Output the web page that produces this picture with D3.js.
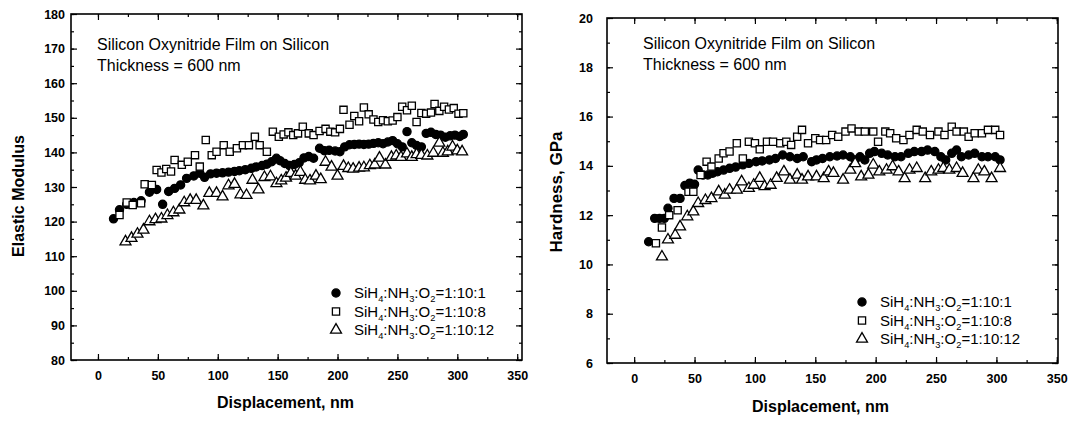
<!DOCTYPE html>
<html>
<head>
<meta charset="utf-8">
<script src="https://cdn.jsdelivr.net/npm/d3@7"></script>
<style>
  body { margin: 0; background: #fff; }
  svg { display: block; font-family: Arial, "Liberation Sans", sans-serif; }
</style>
</head>
<body>
<svg id="chart" width="1071" height="421"></svg>
<script>
// ---- data: [displacement nm, value] ----
const seriesLabels = ["SiH_4:NH_3:O_2=1:10:1", "SiH_4:NH_3:O_2=1:10:8", "SiH_4:NH_3:O_2=1:10:12"];

const modulus_1_10_1 = [[13,120.8],[18,123.4],[24,125],[30,125.5],[36,126],[43,128.5],[49,129.3],[54,125],[59,128.7],[64,129.6],[69,130.6],[74,132.5],[80,133.2],[85,134],[89,132.8],[94,133.8],[99,134],[104,134.1],[109,134.3],[114,134.5],[118,134.7],[123,135],[128,135.4],[132,135.8],[137,136.2],[141,136.6],[145,137.3],[149,138.3],[152,137.6],[156,136.8],[160,136.2],[164,136.5],[168,137],[172,138.4],[176,138.8],[180,138.3],[185,141.2],[189,140.5],[193,140.6],[198,140.4],[202,140.2],[206,141.6],[210,142.2],[214,142.3],[218,142.4],[222,142.3],[226,142.4],[230,142.6],[234,142.8],[238,142.5],[242,143],[246,143.4],[250,142.5],[254,141.6],[258,146],[262,142.8],[266,142],[270,141.6],[274,145.5],[278,145.8],[282,145.2],[286,145],[290,144.4],[294,144.8],[298,145],[302,144.6],[305,145.2]];
const modulus_1_10_8 = [[18,121.9],[24,125.5],[29,124.8],[36,125.3],[39,130.8],[45,130.6],[49,134.9],[53,134.2],[57,135.2],[61,134.5],[64,137.8],[70,136.4],[75,137.3],[81,139.2],[85,135.9],[90,143.6],[95,139.2],[99,140.2],[105,142.1],[110,140.2],[116,141.2],[121,142.1],[126,142.1],[131,144.5],[135,142.1],[141,140.2],[146,146],[151,144.5],[155,145.2],[159,145.8],[163,145],[167,145.5],[171,147.4],[176,145.5],[180,145],[185,146.2],[190,146.8],[194,146],[198,145.8],[202,146.8],[205,152.3],[210,148],[214,150.5],[218,149],[222,153],[226,151],[230,149.5],[234,148.8],[238,149.3],[242,149],[246,149.2],[250,150.2],[254,153.2],[258,152.2],[262,153.5],[266,148.8],[270,151.4],[274,151.2],[278,151.5],[281,154],[285,152],[289,153.2],[293,152.4],[297,152.8],[301,151.2],[305,151.3]];
const modulus_1_10_12 = [[23,114.2],[28,115.2],[33,116.4],[38,117.6],[43,120],[48,120.6],[53,120.8],[58,121.8],[63,122.6],[68,123.4],[72,125.5],[77,126.2],[82,126.2],[88,124.6],[93,128.2],[99,128.2],[104,127.2],[109,130.4],[114,130.8],[119,127.8],[124,127.6],[129,132],[134,129.2],[139,132.8],[144,133],[149,131],[153,131.8],[157,132.6],[161,134],[165,133.2],[169,134.3],[173,132],[177,131.8],[182,133.2],[186,132.2],[190,137.2],[195,135.8],[200,133.2],[205,136],[209,135.4],[213,135.2],[218,135.5],[222,135.6],[227,136.2],[231,136.4],[235,138.4],[240,136.4],[245,138.6],[249,139],[253,138.6],[258,139.6],[262,138.6],[266,139.4],[270,139.2],[275,139],[280,139.8],[285,142.7],[288,139.8],[292,140.2],[296,141.6],[300,140.5],[304,140.2]];

const hardness_1_10_1 = [[12,10.92],[17,11.87],[21,11.87],[25,11.87],[28,12.28],[33,12.68],[38,12.68],[42,13.2],[46,13.3],[50,13.25],[53,13.83],[57,13.63],[61,13.63],[65,13.7],[69,13.76],[74,13.83],[79,13.9],[84,13.95],[90,14.04],[95,14.1],[101,14.17],[106,14.2],[112,14.24],[117,14.3],[123,14.44],[129,14.37],[135,14.3],[140,14.37],[147,14.17],[151,14.24],[156,14.3],[162,14.37],[168,14.4],[173,14.44],[179,14.37],[183,14.24],[187,14.37],[191,14.24],[195,14.51],[199,14.58],[205,14.51],[210,14.44],[216,14.37],[221,14.37],[227,14.51],[232,14.58],[238,14.58],[243,14.64],[249,14.58],[254,14.37],[258,14.24],[263,14.51],[267,14.64],[271,14.37],[277,14.44],[282,14.51],[288,14.37],[293,14.37],[299,14.37],[303,14.24]];
const hardness_1_10_8 = [[18,10.86],[23,11.5],[29,12.0],[36,12.2],[45,12.95],[49,12.95],[55,13.63],[60,14.17],[64,13.97],[70,14.3],[74,14.51],[79,14.58],[85,14.92],[90,14.3],[95,14.98],[100,14.92],[104,14.67],[110,14.98],[115,14.98],[121,14.92],[126,14.98],[130,14.85],[135,15.18],[139,15.46],[144,14.92],[150,15.12],[154,15.05],[159,15.05],[164,15.25],[169,15.18],[175,15.39],[180,15.52],[186,15.39],[191,15.39],[198,15.39],[202,14.98],[208,15.39],[212,15.32],[217,15.12],[223,15.05],[228,15.25],[234,15.46],[239,15.39],[245,15.25],[252,15.39],[257,15.25],[263,15.59],[267,15.39],[273,15.39],[277,15.18],[282,15.32],[288,15.32],[293,15.46],[299,15.46],[303,15.25]];
const hardness_1_10_12 = [[23,10.31],[28,11.0],[34,11.19],[38,11.53],[44,11.94],[49,12.14],[53,12.48],[59,12.6],[64,12.68],[70,12.95],[75,12.82],[79,13.02],[85,13.02],[89,13.36],[95,13.09],[99,13.22],[104,13.5],[108,13.16],[113,13.22],[118,13.5],[124,13.76],[129,13.43],[135,13.63],[139,13.43],[144,13.56],[151,13.56],[157,13.49],[161,13.76],[165,13.7],[173,13.43],[179,13.83],[183,14.1],[188,13.56],[194,13.63],[198,14.04],[203,13.76],[209,13.83],[214,13.97],[219,13.76],[224,13.49],[228,13.83],[234,13.9],[241,13.49],[246,13.76],[252,13.83],[256,13.9],[261,13.83],[267,13.9],[272,13.7],[281,13.49],[285,13.83],[290,13.76],[296,13.49],[303,13.9]];

const xTicks = [0, 50, 100, 150, 200, 250, 300, 350];
const modulusTicks = [80, 90, 100, 110, 120, 130, 140, 150, 160, 170, 180];
const hardnessTicks = [6, 8, 10, 12, 14, 16, 18, 20];

const svg = d3.select("#chart");

// symbols: filled circle, open square, open triangle
const markers = [
  { type: d3.symbolCircle, size: 52, fill: "#000" },
  { type: d3.symbolSquare, size: 52, fill: "#fff" },
  { type: d3.symbolTriangle, size: 52, fill: "#fff" }
];

function addLabel(sel, label, size) {
  // "SiH_4" -> SiH with subscript 4
  label.split(/_(\d)/).forEach((part, i) => {
    if (!part) return;
    if (i % 2 === 1) {
      sel.append("tspan").attr("font-size", size * 0.62).attr("dy", 4).text(part);
    } else {
      sel.append("tspan").attr("dy", i === 0 ? 0 : -4).text(part);
    }
  });
}

function drawPanel(p) {
  const x = d3.scaleLinear().domain(p.xDomain).range([p.left, p.right]);
  const y = d3.scaleLinear().domain(p.yDomain).range([p.bottom, p.top]);
  const g = svg.append("g");

  // minor ticks
  const xMinor = d3.range(-25, 351, 25).filter(v => v >= p.xDomain[0] && v <= p.xDomain[1]);
  const yMinor = d3.range(p.yDomain[0], p.yDomain[1] + 1e-9, p.yMinorStep);

  const axisG = (axis, tx, ty) => g.append("g")
    .attr("transform", `translate(${tx},${ty})`)
    .call(axis)
    .call(s => s.select(".domain").remove());

  // bottom
  axisG(d3.axisBottom(x).tickValues(xMinor).tickSize(-3).tickFormat(""), 0, p.bottom);
  axisG(d3.axisBottom(x).tickValues(xTicks).tickSize(-6).tickPadding(11), 0, p.bottom)
    .selectAll("text").attr("font-size", 12.5).attr("font-weight", "bold").attr("fill", "#000");
  // top
  axisG(d3.axisTop(x).tickValues(xMinor).tickSize(-3).tickFormat(""), 0, p.top);
  axisG(d3.axisTop(x).tickValues(xTicks).tickSize(-6).tickFormat(""), 0, p.top);
  // left
  axisG(d3.axisLeft(y).tickValues(yMinor).tickSize(-3).tickFormat(""), p.left, 0);
  axisG(d3.axisLeft(y).tickValues(p.yTicks).tickSize(-6).tickPadding(p.yPad), p.left, 0)
    .selectAll("text").attr("font-size", 12.5).attr("font-weight", "bold").attr("fill", "#000");
  // right
  axisG(d3.axisRight(y).tickValues(yMinor).tickSize(-3).tickFormat(""), p.right, 0);
  axisG(d3.axisRight(y).tickValues(p.yTicks).tickSize(-6).tickFormat(""), p.right, 0);

  g.selectAll(".tick line").attr("stroke", "#000").attr("stroke-width", 1.2);

  g.append("rect")
    .attr("x", p.left).attr("y", p.top)
    .attr("width", p.right - p.left).attr("height", p.bottom - p.top)
    .attr("fill", "none").attr("stroke", "#000").attr("stroke-width", 1.6);

  // data points
  p.series.forEach((data, i) => {
    const m = markers[i];
    g.append("g").selectAll("path")
      .data(data)
      .join("path")
      .attr("transform", d => `translate(${x(d[0])},${y(d[1])})`)
      .attr("d", d3.symbol().type(m.type).size(m.size))
      .attr("fill", m.fill)
      .attr("stroke", "#000")
      .attr("stroke-width", 1.3);
  });

  // annotation
  g.append("text").attr("x", p.noteX).attr("y", p.noteY)
    .attr("font-size", 16).text("Silicon Oxynitride Film on Silicon");
  g.append("text").attr("x", p.noteX).attr("y", p.noteY + 21)
    .attr("font-size", 16).text("Thickness = 600 nm");

  // legend
  seriesLabels.forEach((label, i) => {
    const ly = p.legendY + i * 18.5;
    const m = markers[i];
    g.append("path")
      .attr("transform", `translate(${p.legendX},${ly})`)
      .attr("d", d3.symbol().type(m.type).size(m.size))
      .attr("fill", m.fill).attr("stroke", "#000").attr("stroke-width", 1.3);
    const t = g.append("text").attr("x", p.legendX + 18).attr("y", ly + 5)
      .attr("font-size", 15);
    addLabel(t, label, 15);
  });

  // axis titles
  g.append("text")
    .attr("x", p.xTitleX).attr("y", p.xTitleY)
    .attr("font-size", 16).attr("font-weight", "bold")
    .text("Displacement, nm");
  g.append("text")
    .attr("transform", `translate(${p.yTitleX},${p.yTitleY}) rotate(-90)`)
    .attr("text-anchor", "middle")
    .attr("font-size", p.yTitleSize).attr("font-weight", "bold")
    .text(p.yTitle);
}

drawPanel({
  left: 71, right: 522, top: 14, bottom: 360,
  xDomain: [-22.5, 354], yDomain: [80, 180], yTicks: modulusTicks, yMinorStep: 5, yPad: 6,
  series: [modulus_1_10_1, modulus_1_10_8, modulus_1_10_12],
  noteX: 97, noteY: 49.5,
  legendX: 336, legendY: 293,
  xTitleX: 217, xTitleY: 408,
  yTitleX: 23.5, yTitleY: 196, yTitleSize: 16, yTitle: "Elastic Modulus"
});

drawPanel({
  left: 607, right: 1058, top: 18, bottom: 363,
  xDomain: [-22.5, 351], yDomain: [6, 20], yTicks: hardnessTicks, yMinorStep: 1, yPad: 14,
  series: [hardness_1_10_1, hardness_1_10_8, hardness_1_10_12],
  noteX: 643, noteY: 48.5,
  legendX: 862, legendY: 302,
  xTitleX: 752, xTitleY: 412,
  yTitleX: 562, yTitleY: 192, yTitleSize: 17, yTitle: "Hardness, GPa"
});
</script>
</body>
</html>
